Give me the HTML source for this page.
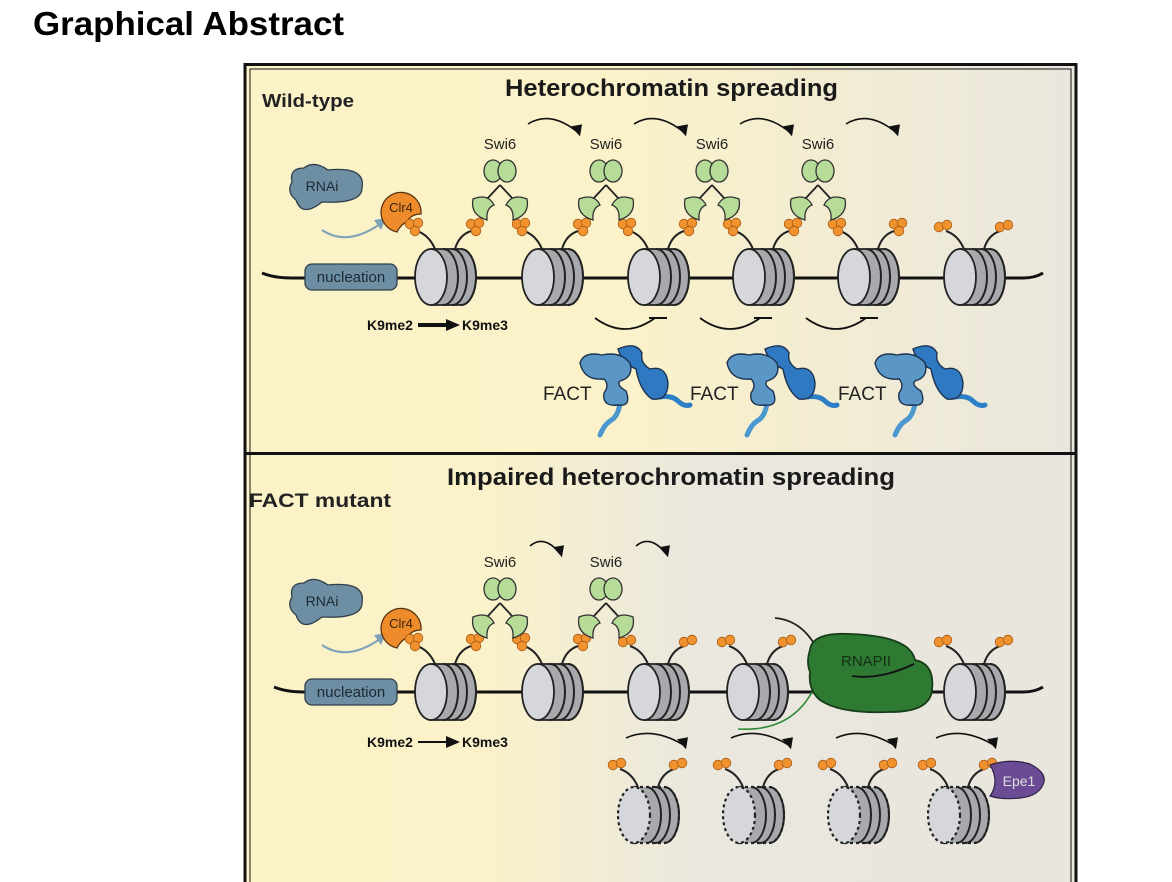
<!DOCTYPE html>
<html><head><meta charset="utf-8"><style>
html,body{margin:0;padding:0;background:#fff;width:1172px;height:882px;overflow:hidden}
svg{display:block;font-family:"Liberation Sans",Arial,sans-serif}
</style></head><body>
<svg id="s" width="1172" height="882" viewBox="0 0 1172 882">
<defs>
<linearGradient id="g1" x1="0" x2="1" y1="0" y2="0">
<stop offset="0" stop-color="#fbf2c8"/><stop offset="0.45" stop-color="#fbf2c9"/><stop offset="1" stop-color="#e9e6de"/></linearGradient>
<linearGradient id="g2" x1="0" x2="1" y1="0" y2="0">
<stop offset="0" stop-color="#fbf2c8"/><stop offset="0.28" stop-color="#fbf2c9"/><stop offset="0.55" stop-color="#eae7df"/><stop offset="1" stop-color="#e9e6de"/></linearGradient>
</defs>
<text x="33" y="35" font-size="33" font-weight="bold" fill="#000" textLength="311" lengthAdjust="spacingAndGlyphs">Graphical Abstract</text>
<rect x="245" y="65" width="830" height="387" fill="url(#g1)"/>
<rect x="245" y="455" width="830" height="430" fill="url(#g2)"/>
<g fill="none" stroke="#111">
<path d="M245 882 V64.5 H1076 V882" stroke-width="3"/>
<path d="M250 882 V69 H1071 V882" stroke-width="1"/>
<path d="M245 453.5 H1076" stroke-width="3"/>
</g>
<text x="505" y="96" font-size="24" font-weight="bold" fill="#1a1a1a" textLength="333" lengthAdjust="spacingAndGlyphs">Heterochromatin spreading</text>
<text x="262" y="107" font-size="18" font-weight="bold" fill="#222" textLength="92" lengthAdjust="spacingAndGlyphs">Wild-type</text>
<text x="447" y="485" font-size="24" font-weight="bold" fill="#1a1a1a" textLength="448" lengthAdjust="spacingAndGlyphs">Impaired heterochromatin spreading</text>
<text x="249" y="507" font-size="19" font-weight="bold" fill="#222" textLength="142" lengthAdjust="spacingAndGlyphs">FACT mutant</text>
<g id="art"></g>
</svg>
<script>
const NS="http://www.w3.org/2000/svg";
const art=document.getElementById('art');
function mk(tag,attrs,parent,txt){const e=document.createElementNS(NS,tag);for(const k in attrs)e.setAttribute(k,attrs[k]);if(txt)e.textContent=txt;(parent||art).appendChild(e);return e;}
const topNuc=[415,522,628,733,838,944];
const botNuc=[415,522,628,727,944];
const dotNuc=[618,723,828,928];
const topSwi=[500,606,712,818];
const botSwi=[500,606];
const factX=[543,690,838];

function dna(y,x1,x2,parent){
  mk('path',{d:`M${x1} ${y-5} Q${x1+12} ${y} ${x1+30} ${y} H${x2-20} Q${x2-8} ${y} ${x2} ${y-5}`,fill:'none',stroke:'#111','stroke-width':3},parent);
}
function nuc(x,y,dashed){
  const g=mk('g',{});
  
  
  const st={stroke:'#222','stroke-width':dashed?2.2:1.8,'stroke-dasharray':dashed?'3 3':'none'};
  mk('path',Object.assign({d:`M${x+16} ${y-28} H${x+46} A15 28 0 0 1 ${x+46} ${y+28} H${x+16} Z`,fill:'#a8a9ac'},st),g);
  for(const dx of [28,37,46]) mk('path',{d:`M${x+dx} ${y-28} A15 28 0 0 1 ${x+dx} ${y+28}`,fill:'none',stroke:'#222','stroke-width':2},g);
  mk('ellipse',Object.assign({cx:x+16,cy:y,rx:16,ry:28,fill:'#d6d7da'},st),g);
  return g;
}
function balls(cx,cy,n){
  const g=mk('g',{});
  
  
  const pts=n==3?[[-4,-3],[4,-4],[1,4]]:[[-4,0],[4,-2]];
  for(const p of pts) mk('circle',{cx:cx+p[0],cy:cy+p[1],r:4.8,fill:'#f0922e',stroke:'#a85a14','stroke-width':0.8},g);
}
function tails(x,y,n){
  mk('path',{d:`M${x+20} ${y-28} Q${x+14} ${y-42} ${x+2} ${y-46}`,fill:'none',stroke:'#222','stroke-width':2});
  mk('path',{d:`M${x+40} ${y-28} Q${x+44} ${y-42} ${x+56} ${y-46}`,fill:'none',stroke:'#222','stroke-width':2});
  balls(x-1,y-50,n);balls(x+60,y-50,n);
}
function swi6(cx,ty,label){
  const g=mk('g',{});
  
  
  mk('text',{x:cx,y:ty,'font-size':15,'text-anchor':'middle',fill:'#222'},g,label);
  const hy=ty+22;
  mk('path',{d:`M${cx} ${hy+14} L${cx-13} ${hy+28} M${cx} ${hy+14} L${cx+13} ${hy+28}`,fill:'none',stroke:'#222','stroke-width':1.8},g);
  mk('ellipse',{cx:cx-7,cy:hy,rx:9,ry:11,fill:'#b6dc98',stroke:'#333','stroke-width':1.3},g);
  mk('ellipse',{cx:cx+7,cy:hy,rx:9,ry:11,fill:'#b6dc98',stroke:'#333','stroke-width':1.3},g);
  mk('path',{d:`M${cx-27} ${hy+28} Q${cx-12} ${hy+22} ${cx-6} ${hy+34} Q${cx-14} ${hy+37} ${cx-13} ${hy+49} Q${cx-30} ${hy+44} ${cx-27} ${hy+28}Z`,fill:'#b6dc98',stroke:'#333','stroke-width':1.3},g);
  mk('path',{d:`M${cx+27} ${hy+28} Q${cx+12} ${hy+22} ${cx+6} ${hy+34} Q${cx+14} ${hy+37} ${cx+13} ${hy+49} Q${cx+30} ${hy+44} ${cx+27} ${hy+28}Z`,fill:'#b6dc98',stroke:'#333','stroke-width':1.3},g);
}
function curveArrow(x,y,w,h){
  mk('path',{d:`M${x} ${y} Q${x+w*0.45} ${y-h} ${x+w} ${y+h*0.6}`,fill:'none',stroke:'#111','stroke-width':1.6});
  mk('path',{d:`M${x+w-7} ${y+h*0.6-6} L${x+w+2} ${y+h*0.6+4} L${x+w+4} ${y+h*0.6-8}Z`,fill:'#111'});
}
function inhib(x,y){
  mk('path',{d:`M${x} ${y} Q${x+30} ${y+22} ${x+60} ${y}`,fill:'none',stroke:'#111','stroke-width':1.8});
  mk('path',{d:`M${x+54} ${y} H${x+72}`,fill:'none',stroke:'#111','stroke-width':2});
}
function rnai(x,y){
  const g=mk('g',{});
  
  
  mk('path',{d:`M${x} ${y} Q${x-3} ${y-14} ${x+12} ${y-14} Q${x+22} ${y-22} ${x+36} ${y-12} Q${x+74} ${y-16} ${x+70} ${y+6} Q${x+70} ${y+22} ${x+30} ${y+20} Q${x+10} ${y+36} ${x+4} ${y+18} Q${x-6} ${y+10} ${x} ${y}Z`,fill:'#6e8fa3',stroke:'#2f3f4a','stroke-width':1.3},g);
  mk('text',{x:x+30,y:y+9,'font-size':14,'text-anchor':'middle',fill:'#1c2a33'},g,'RNAi');
  mk('path',{d:`M${x+30} ${y+48} Q${x+55} ${y+65} ${x+88} ${y+42}`,fill:'none',stroke:'#7ea2b8','stroke-width':2});
  mk('path',{d:`M${x+82} ${y+38} L${x+94} ${y+36} L${x+89} ${y+48}Z`,fill:'#7ea2b8'});
}
function clr4(x,y){
  const g=mk('g',{});
  
  
  mk('path',{d:`M${x+10} ${y+22} A20 20 0 1 1 ${x+34} ${y+4} Q${x+24} ${y+4} ${x+20} ${y+12} Q${x+14} ${y+14} ${x+10} ${y+22}Z`,fill:'#ee8c2c',stroke:'#5a3310','stroke-width':1.3},g);
  mk('text',{x:x+14,y:y+2,'font-size':13,'text-anchor':'middle',fill:'#3a2308'},g,'Clr4');
}
function nucleation(y){
  const g=mk('g',{});
  
  
  mk('rect',{x:305,y:y-13,width:92,height:26,rx:7,fill:'#6e8fa3',stroke:'#2f3f4a','stroke-width':1.3},g);
  mk('text',{x:351,y:y+5,'font-size':15,'text-anchor':'middle',fill:'#1c2a33'},g,'nucleation');
}
function k9(y,thick){
  const g=mk('g',{});
  
  
  mk('text',{x:367,y:y,'font-size':14,'font-weight':'bold',fill:'#111'},g,'K9me2');
  mk('path',{d:`M418 ${y-5} H450`,stroke:'#111','stroke-width':thick?4:2},g);
  mk('path',{d:`M446 ${y-11} L460 ${y-5} L446 ${y+1}Z`,fill:'#111'},g);
  mk('text',{x:462,y:y,'font-size':14,'font-weight':'bold',fill:'#111'},g,'K9me3');
}
function fact(tx){
  const g=mk('g',{});
  
  
  const x=tx+37,y=355;
  mk('text',{x:tx,y:400,'font-size':19,fill:'#222'},g,'FACT');
  mk('path',{d:`M${x+40} ${y+48} Q${x+38} ${y+62} ${x+30} ${y+66} Q${x+24} ${y+70} ${x+20} ${y+80}`,fill:'none',stroke:'#4a98cf','stroke-width':5,'stroke-linecap':'round'},g);
  mk('path',{d:`M${x+80} ${y+42} Q${x+92} ${y+40} ${x+98} ${y+46} Q${x+104} ${y+52} ${x+110} ${y+50}`,fill:'none',stroke:'#2c7fc6','stroke-width':5,'stroke-linecap':'round'},g);
  mk('path',{d:`M${x+38} ${y-6} Q${x+56} ${y-14} ${x+62} ${y-2} Q${x+60} ${y+8} ${x+70} ${y+14} Q${x+86} ${y+10} ${x+88} ${y+28} Q${x+88} ${y+46} ${x+72} ${y+44} Q${x+60} ${y+36} ${x+56} ${y+14} Q${x+42} ${y+8} ${x+38} ${y-6}Z`,fill:'#2f79c2',stroke:'#1d3350','stroke-width':1.4},g);
  mk('path',{d:`M${x} ${y+8} Q${x+4} ${y-4} ${x+22} ${y} Q${x+40} ${y-4} ${x+50} ${y+8} Q${x+54} ${y+22} ${x+40} ${y+26} Q${x+36} ${y+30} ${x+46} ${y+36} Q${x+52} ${y+52} ${x+38} ${y+50} Q${x+22} ${y+52} ${x+24} ${y+38} Q${x+30} ${y+30} ${x+24} ${y+24} Q${x+4} ${y+26} ${x} ${y+8}Z`,fill:'#5a97c6',stroke:'#1d3350','stroke-width':1.4},g);
}

/* ---- top panel ---- */
dna(278,262,1043);
rnai(292,182);
clr4(387,210);
nucleation(277);
for(const x of topNuc){nuc(x,277);}
topNuc.forEach((x,i)=>tails(x,277,i===topNuc.length-1?2:3));
topSwi.forEach(cx=>swi6(cx,149,'Swi6'));
for(const cx of topSwi) curveArrow(cx+28,124,50,14);
for(const x of [595,700,806]) inhib(x,318);
k9(330,true);
factX.forEach(fact);

/* ---- bottom panel ---- */
dna(692,274,1043);
rnai(292,597);
clr4(387,626);
nucleation(692);
for(const x of botNuc){nuc(x,692);}
botNuc.forEach(x=>tails(x,692,x<600?3:2));
botSwi.forEach(cx=>swi6(cx,567,'Swi6'));
for(const cx of botSwi) curveArrow(cx+30,546,30,12);
const pol=mk('g',{});


mk('path',{d:'M775 618 Q800 620 815 645',fill:'none',stroke:'#222','stroke-width':1.8},pol);
mk('path',{d:'M810 650 Q812 632 850 634 Q910 636 915 660 Q935 664 932 690 Q930 712 890 712 Q840 714 820 700 Q808 690 810 672 Q806 662 810 650Z',fill:'#2f7a33',stroke:'#163d18','stroke-width':1.8},pol);
mk('path',{d:'M852 676 Q880 680 914 664',fill:'none',stroke:'#111','stroke-width':1.8},pol);
mk('text',{x:866,y:666,'font-size':15,'text-anchor':'middle',fill:'#123015'},pol,'RNAPII');
mk('path',{d:'M738 729 Q790 732 812 692',fill:'none',stroke:'#2f8a34','stroke-width':1.6},pol);
for(const x of dotNuc) curveArrow(x+8,738,58,12);
k9(747,false);
for(const x of dotNuc){nuc(x,815,true);tails(x,815,2);}
const epe=mk('g',{});


mk('path',{d:'M990 765 Q1010 758 1030 764 Q1046 772 1044 782 Q1040 796 1020 798 Q1002 800 990 796 Q1000 782 990 765Z',fill:'#6b4c94',stroke:'#2f2145','stroke-width':1.2},epe);
mk('text',{x:1019,y:786,'font-size':14,'text-anchor':'middle',fill:'#ddd'},epe,'Epe1');
</script>
</body></html>
